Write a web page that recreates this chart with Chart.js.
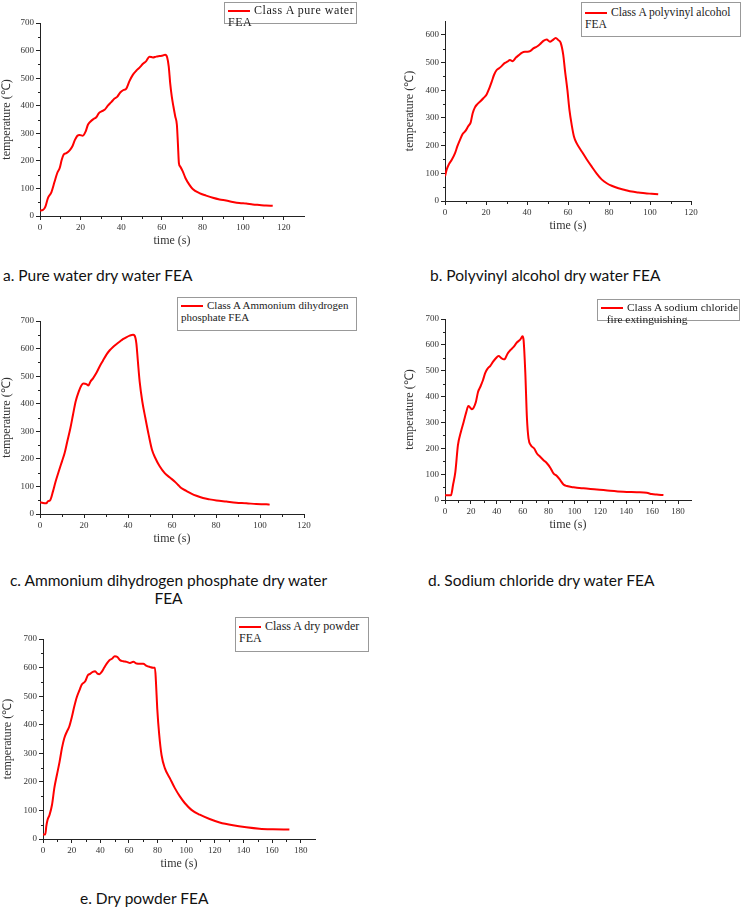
<!DOCTYPE html>
<html lang="en">
<head>
<meta charset="UTF-8">
<title>Fire test temperature curves - FEA</title>
<script src="https://cdn.jsdelivr.net/npm/chart.js"></script>
<style>
  body { margin: 0; background: #fff; width: 742px; height: 907px; position: relative; overflow: hidden; }
  .plot { position: absolute; }
  .legend { position: absolute; border: 1px solid #999; background: #fff; font: 12px "Liberation Serif", serif; line-height: 12px; color: #222; padding: 1px 0 0 3px; box-sizing: border-box; white-space: nowrap; }
  .swatch { display: inline-block; width: 22px; height: 0; border-top: 2px solid #f00; vertical-align: middle; margin-right: 4px; letter-spacing: 0; }
  .caption { position: absolute; font: 15.5px Lato, sans-serif; color: #111; white-space: nowrap; line-height: 18px; }
</style>
</head>
<body>
  <!-- plots -->
  <div class="plot" style="left:0px;top:15px;width:316px;height:237px"><canvas id="chartA"></canvas></div>
  <div class="plot" style="left:403px;top:13px;width:300px;height:224px"><canvas id="chartB"></canvas></div>
  <div class="plot" style="left:0px;top:313px;width:316px;height:237px"><canvas id="chartC"></canvas></div>
  <div class="plot" style="left:403px;top:311px;width:300px;height:225px"><canvas id="chartD"></canvas></div>
  <div class="plot" style="left:1px;top:631px;width:326px;height:244px"><canvas id="chartE"></canvas></div>

  <!-- legends -->
  <div class="legend" style="left:224px;top:2px;width:133px;height:22px;letter-spacing:0.55px"><span class="swatch"></span>Class A pure water<br>FEA</div>
  <div class="legend" style="left:581px;top:2px;width:160px;height:35px;padding-top:4px;font-size:11.6px"><span class="swatch"></span>Class A polyvinyl alcohol<br>FEA</div>
  <div class="legend" style="left:177px;top:297px;width:180px;height:34px;font-size:11px"><span class="swatch"></span>Class A Ammonium dihydrogen<br>phosphate FEA</div>
  <div class="legend" style="left:597px;top:299px;width:143px;height:22px;font-size:11.4px"><span class="swatch"></span>Class A sodium chloride<br>&nbsp;&nbsp;fire extinguishing</div>
  <div class="legend" style="left:235px;top:617px;width:134px;height:35px;padding-top:2px"><span class="swatch"></span>Class A dry powder<br>FEA</div>

  <!-- captions -->
  <div class="caption" style="left:3px;top:266px">a. Pure water dry water FEA</div>
  <div class="caption" style="left:430px;top:266px">b. Polyvinyl alcohol dry water FEA</div>
  <div class="caption" style="left:0px;top:571px;width:337px;text-align:center">c. Ammonium dihydrogen phosphate dry water<br>FEA</div>
  <div class="caption" style="left:428px;top:571px">d. Sodium chloride dry water FEA</div>
  <div class="caption" style="left:80px;top:889px">e. Dry powder FEA</div>

<script>
// a. pure water dry water FEA
const aTime = [0, 1.5, 2.6, 3.9, 5.6, 7.2, 8.5, 9.7, 10.7, 11.6, 13, 14.6, 15.9, 17.2, 18.4, 19.5, 21.1, 22.5, 23.6, 24.9, 26.4, 27.7, 29, 30.5, 31.8, 33.4, 35.1, 36.7, 38, 39.5, 41.1, 42.5, 44.1, 45.7, 47.4, 49, 50.7, 52.3, 53.9, 55.6, 57.2, 58.9, 60.5, 61.6, 62.6, 63.4, 64.1, 64.9, 65.7, 66.6, 67.4, 67.9, 68.4, 69, 70.3, 71.6, 73.6, 75.2, 78.5, 81.8, 85.1, 88.4, 91.6, 94.9, 98.2, 101.5, 104.8, 108, 111.3, 114.6];
const aTemp = [20, 22, 33, 65, 86, 125, 156, 174, 204, 222, 228, 238, 252, 276, 291, 294, 291, 307, 331, 343, 352, 358, 373, 380, 385, 400, 413, 426, 432, 448, 457, 462, 490, 512, 527, 538, 552, 562, 578, 575, 578, 580, 582, 585, 576, 542, 482, 433, 397, 361, 331, 264, 192, 180, 162, 138, 113, 98, 83, 74, 66, 60, 56, 51, 47, 45, 42, 40, 38, 37];

// b. polyvinyl alcohol dry water FEA
const bTime = [0, 0.8, 2, 3.3, 4.9, 6, 7.3, 8.6, 10.1, 11.4, 12.5, 13.5, 14.6, 15.8, 17.1, 18.7, 20.3, 21.6, 22.8, 23.9, 25.2, 26.3, 27.6, 28.9, 30.4, 31.7, 33, 34.6, 36.1, 37.4, 39, 40.3, 41.5, 43.1, 44.7, 46.3, 48, 49.6, 51.2, 52.5, 54, 55.3, 56.4, 57.7, 58.5, 59.7, 60.7, 61.8, 62.9, 64.2, 66.7, 69.1, 71.5, 74, 76.4, 78.9, 81.3, 84.6, 87.8, 91.1, 94.3, 97.6, 100.8, 104];
const bTemp = [89, 113, 134, 149, 173, 197, 221, 242, 254, 271, 283, 317, 338, 350, 359, 371, 385, 407, 431, 455, 473, 479, 487, 497, 503, 509, 505, 518, 527, 535, 539, 539, 541, 551, 557, 566, 578, 583, 575, 581, 589, 581, 572, 527, 473, 401, 329, 275, 233, 209, 179, 151, 125, 99, 78, 64, 55, 46, 40, 34, 31, 28, 26, 24];

// c. ammonium dihydrogen phosphate dry water FEA
const cTime = [0, 1.4, 2.9, 3.6, 4.7, 5.9, 7.1, 8.5, 10, 11.2, 12.4, 13.8, 15, 16.2, 17.6, 18.8, 19.8, 21.1, 22, 22.9, 24.1, 25.6, 27.1, 28.6, 30.2, 31.7, 33.2, 34.7, 36.2, 37.7, 39.2, 40.8, 42.3, 43, 43.8, 44.5, 45.3, 46.5, 47.9, 49.4, 50.9, 52.4, 54.4, 56.7, 58.9, 61.2, 62.7, 64.2, 66.5, 68.8, 71.1, 74.1, 77.1, 80.2, 84.7, 89.2, 93.8, 98.3, 102.9, 104.4];
const cTemp = [43, 40, 39, 46, 51, 82, 118, 154, 191, 221, 263, 311, 360, 408, 444, 466, 473, 471, 466, 480, 492, 511, 535, 556, 578, 594, 606, 616, 625, 634, 641, 647, 650, 647, 619, 553, 480, 408, 348, 287, 233, 203, 173, 148, 133, 118, 106, 94, 84, 74, 66, 58, 53, 49, 45, 41, 39, 36, 35, 34];

// d. sodium chloride dry water FEA
const dTime = [0, 4.6, 6.2, 8, 10, 12.3, 14.4, 16.5, 18, 19.5, 20.8, 22.1, 23.9, 25.5, 27.3, 29.3, 31.1, 32.9, 35, 37, 39.1, 41.4, 43.5, 45.3, 46.5, 48.3, 50.4, 53, 55.5, 58.1, 59.9, 60.7, 62, 63.3, 64.5, 66.3, 68.9, 71, 73.5, 76.1, 78.7, 81.3, 83.8, 86.4, 89, 91.5, 94.1, 99.3, 107, 117.3, 127.5, 137.8, 148.1, 155.8, 159.7, 163.5, 168.7];
const dTemp = [18, 18, 58, 109, 212, 264, 302, 341, 364, 357, 351, 357, 380, 418, 438, 463, 492, 508, 519, 534, 547, 557, 549, 544, 547, 566, 579, 592, 609, 620, 633, 618, 495, 315, 238, 212, 199, 180, 167, 154, 142, 125, 103, 93, 77, 60, 54, 49, 45, 41, 36, 32, 30, 28, 23, 21, 19];

// e. dry powder FEA
const eTime = [0, 1.6, 2.3, 3.2, 4.6, 6.3, 7.9, 9.7, 11.6, 13.2, 14.8, 16.7, 18.3, 20.2, 21.8, 23.7, 25.5, 27.1, 29.5, 31.3, 32.9, 34.8, 36.4, 38, 39.4, 41, 42.7, 44.5, 46.4, 48.2, 50.1, 52, 53.8, 56.1, 58.5, 60.8, 63.1, 65.4, 67.7, 70, 72.4, 74.7, 76.9, 78.2, 78.9, 79.8, 81.2, 82.8, 85.1, 88.6, 92.1, 95.6, 99, 103.7, 109.5, 116.4, 123.4, 132.7, 142, 151.2, 160.5, 172.1];
const eTemp = [16, 16, 44, 67, 85, 120, 178, 224, 271, 317, 352, 376, 393, 428, 463, 498, 521, 541, 552, 573, 578, 585, 587, 579, 577, 585, 599, 614, 626, 631, 640, 637, 626, 622, 620, 616, 620, 614, 613, 613, 606, 602, 599, 599, 550, 457, 364, 294, 248, 213, 178, 149, 126, 102, 85, 70, 58, 48, 41, 36, 34, 33];

const xStep = 20;
const yStep = 100;
const axisColor = "#222";
Chart.defaults.font.family = "'Liberation Serif', serif";
Chart.defaults.color = "#333";

// small half-step ticks, like the Origin axes
const minorTicks = {
  id: "minorTicks",
  afterDraw(chart) {
    const { ctx, chartArea } = chart;
    const xs = chart.scales.x, ys = chart.scales.y;
    ctx.save();
    ctx.strokeStyle = axisColor;
    ctx.lineWidth = 1;
    ctx.beginPath();
    for (let v = xStep / 2; v < xs.max; v += xStep) {
      const px = Math.round(xs.getPixelForValue(v)) + 0.5;
      ctx.moveTo(px, chartArea.bottom);
      ctx.lineTo(px, chartArea.bottom + 3);
    }
    for (let v = yStep / 2; v < ys.max; v += yStep) {
      const py = Math.round(ys.getPixelForValue(v)) + 0.5;
      ctx.moveTo(chartArea.left, py);
      ctx.lineTo(chartArea.left - 2, py);
    }
    ctx.stroke();
    ctx.restore();
  }
};

// keep only the round major ticks, up to (not past) the axis max
function stepTicks(step) {
  return s => {
    const ticks = [];
    for (let v = 0; v <= s.max; v += step) ticks.push({ value: v });
    s.ticks = ticks;
  };
}

function makeChart(id, time, temp, xMax, yMax, yAxisWidth) {
  const points = time.map((t, i) => ({ x: t, y: temp[i] }));
  return new Chart(document.getElementById(id), {
    type: "line",
    data: {
      datasets: [{
        data: points,
        borderColor: "#ff0000",
        borderWidth: 2,
        pointRadius: 0,
        cubicInterpolationMode: "monotone",
        fill: false
      }]
    },
    options: {
      responsive: true,
      maintainAspectRatio: false,
      animation: false,
      layout: { padding: { top: 8, right: 12, left: 0, bottom: 0 } },
      plugins: { legend: { display: false }, tooltip: { enabled: false } },
      scales: {
        x: {
          type: "linear",
          min: 0,
          max: xMax,
          afterBuildTicks: stepTicks(xStep),
          afterFit: s => { s.height = 36; },
          ticks: { padding: 2, maxRotation: 0, autoSkip: false, font: { size: 9 } },
          grid: { drawOnChartArea: false, tickLength: 4, color: axisColor },
          border: { color: axisColor, width: 1 },
          title: { display: true, text: "time (s)", font: { size: 12 }, padding: { top: 0, bottom: 4 }, color: "#333" }
        },
        y: {
          min: 0,
          max: yMax,
          afterBuildTicks: stepTicks(yStep),
          afterFit: s => { s.width = yAxisWidth; },
          ticks: { padding: 2, autoSkip: false, font: { size: 9 } },
          grid: { drawOnChartArea: false, tickLength: 4, color: axisColor },
          border: { color: axisColor, width: 1 },
          title: { display: true, text: "temperature (℃)", font: { size: 12 }, padding: { top: 0, bottom: 0 }, color: "#333" }
        }
      }
    },
    plugins: [minorTicks]
  });
}

makeChart("chartA", aTime, aTemp, 130, 700, 40);
makeChart("chartB", bTime, bTemp, 120, 650, 42);
makeChart("chartC", cTime, cTemp, 120, 700, 40);
makeChart("chartD", dTime, dTemp, 190, 700, 42);
makeChart("chartE", eTime, eTemp, 190, 700, 42);
</script>
</body>
</html>
